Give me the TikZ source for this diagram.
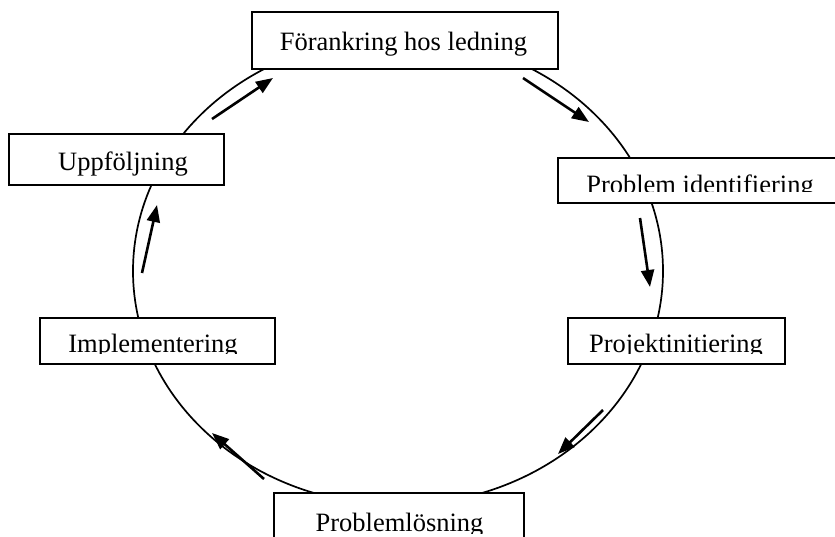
\documentclass[tikz,border=0pt]{standalone}
\usepackage{fontspec}
\setmainfont{Liberation Serif}
\usetikzlibrary{arrows.meta}

\begin{document}
\begin{tikzpicture}[x=1pt,y=-1pt,
    box/.style={rectangle,draw,fill=white,line width=1.6pt,inner sep=0pt},
    lbl/.style={anchor=base,inner sep=0pt,font=\fontsize{26.5}{30}\selectfont},
    flow/.style={line width=2.6pt,-{Triangle[length=17pt,width=13pt]}}]
                    \useasboundingbox (0,0) rectangle (835,536);
                    \clip (0,0) rectangle (835,536);
                    \draw[line width=1.7pt] (398,271) ellipse [x radius=265pt, y radius=234pt];
                    % boxes
                    \node[box,minimum width=306pt,minimum height=57pt] (lead) at (405,40.5) {};
                    \node[box,minimum width=292pt,minimum height=45pt] (pid) at (704,180.5) {};
                    \node[box,minimum width=217pt,minimum height=46pt] (init) at (676.5,341) {};
                    \node[box,minimum width=250pt,minimum height=67pt] (sol) at (399,526.5) {};
                    \node[box,minimum width=235pt,minimum height=46pt] (impl) at (157.5,341) {};
                    \node[box,minimum width=215pt,minimum height=51pt] (fol) at (116.5,159.5) {};
                    % texts
                    \node[lbl] (leadt) at (403.5,50) {Förankring hos ledning};
                    \node[lbl] (folt) at (123,170) {Uppföljning};
                    \begin{scope}
                        \clip (pid.north west) rectangle ([yshift=12pt]pid.south east);
                        \node[lbl] (pidt) at (700,193) {Problem identifiering};
                    \end{scope}
                    \begin{scope}
                        \clip (init.north west) rectangle ([yshift=11pt]init.south east);
                        \node[lbl] (initt) at (676,352) {Projektinitiering};
                    \end{scope}
                    \begin{scope}
                        \clip (impl.north west) rectangle ([yshift=11pt]impl.south east);
                        \node[lbl] (implt) at (153,352) {Implementering};
                    \end{scope}
                    \begin{scope}
                        \clip (sol.north west) rectangle ([yshift=27pt]sol.south east);
                        \node[lbl] (solt) at (399.5,531) {Problemlösning};
                    \end{scope}
                    % arrows beside the circle
                    \coordinate (a1) at (523,78);  \coordinate (b1) at (589,122);
                    \coordinate (a2) at (640,218); \coordinate (b2) at (650,287);
                    \coordinate (a3) at (603,410); \coordinate (b3) at (558,454);
                    \coordinate (a4) at (264,479); \coordinate (b4) at (212,433);
                    \coordinate (a5) at (142,273); \coordinate (b5) at (157,205);
                    \coordinate (a6) at (212,119); \coordinate (b6) at (273,78);
                    \foreach \i in {1,...,6}
                        \draw[flow] (a\i) -- (b\i);
                \end{tikzpicture}
\end{document}
